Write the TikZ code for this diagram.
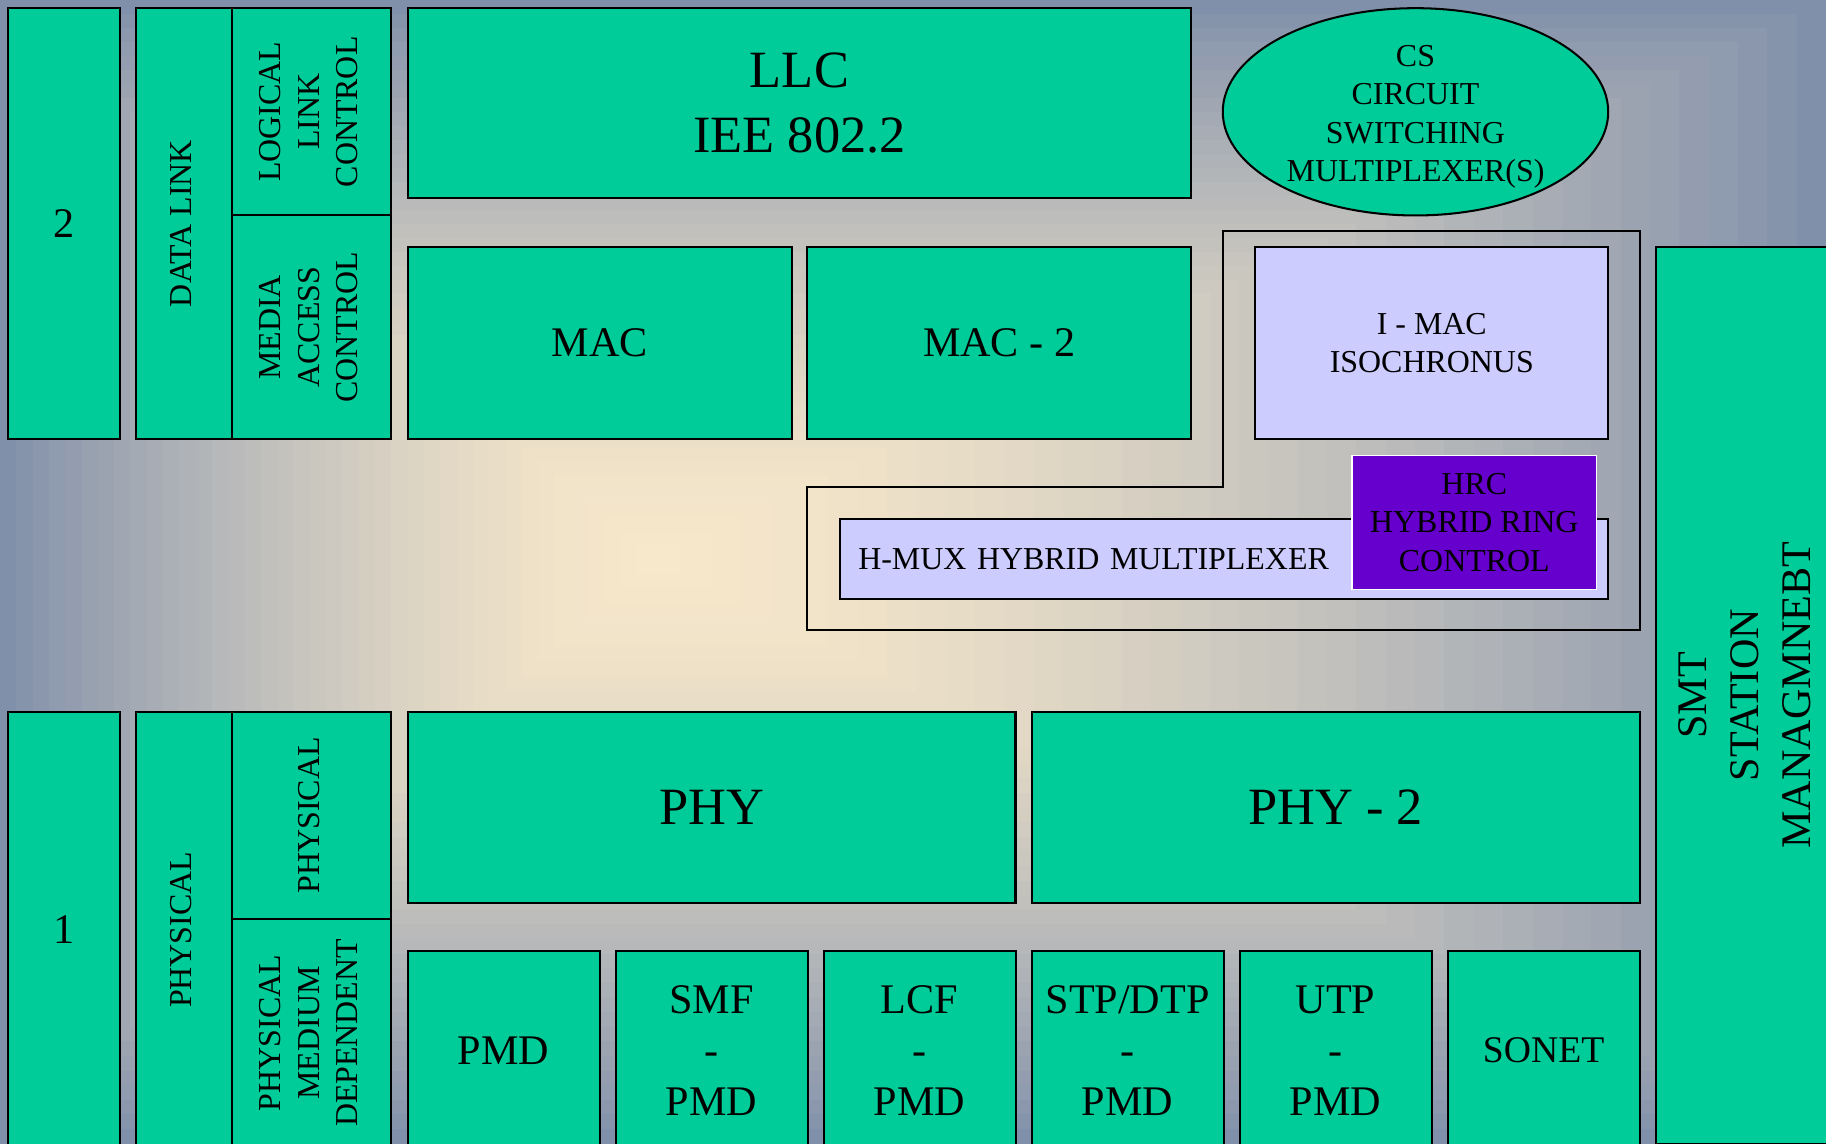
\documentclass[tikz,border=0pt]{standalone}
\usepackage{fontspec}
\setmainfont{Liberation Serif}
\usepackage{graphicx}
\usetikzlibrary{positioning,shapes.geometric}

\definecolor{layergreen}{HTML}{00CC99}
\definecolor{imaclav}{HTML}{CCCCFF}
\definecolor{hrcpurple}{HTML}{6600CC}
\definecolor{bgcream}{HTML}{F7E8CB}
\definecolor{bgslate}{HTML}{8190AA}

% vertical (rotated) label, lines stacked left to right
\newcommand{\vlabel}[1]{\rotatebox{90}{\begin{tabular}{@{}c@{}}#1\end{tabular}}}

\begin{document}
\begin{tikzpicture}[
  x=0.1mm,y=-0.1mm,
  box/.style={rectangle,draw,line width=0.5pt,fill=layergreen,anchor=north west,inner sep=0pt,outer sep=0pt,align=center},
  lilac/.style={box,fill=imaclav},
  small/.style={font=\fontsize{7.8}{9.4}\selectfont},
  mid/.style={font=\fontsize{10.3}{12.5}\selectfont},
  midsmall/.style={font=\fontsize{9.2}{11}\selectfont},
  big/.style={font=\fontsize{12.8}{16}\selectfont},
  tall/.style={font=\fontsize{10.3}{12.8}\selectfont}
]
\useasboundingbox (0,0) rectangle (1568,982);
\clip (0,0) rectangle (1568,982);

% background gradient
\foreach \k in {40,39,...,1} {
  \pgfmathsetmacro\t{\k/40}
  \pgfmathtruncatemacro\p{100*\t^1.5}
  \fill[bgslate!\p!bgcream] ({560-560*\t},{480-480*\t}) rectangle ({560+1008*\t},{480+502*\t});
}

% layer 2 - data link
\node[box,mid,minimum width=9.6mm,minimum height=37mm] (layertwo) at (7,7) {2};
\node[box,small,minimum width=8.2mm,minimum height=37mm] (datalink) at (117,7) {\vlabel{DATA LINK}};
\node[box,small,minimum width=13.7mm,minimum height=17.8mm] (llcside) at (199,7) {\vlabel{LOGICAL\\LINK\\CONTROL}};
\node[box,small,minimum width=13.7mm,minimum height=19.2mm] (macside) at (199,185) {\vlabel{MEDIA\\ACCESS\\CONTROL}};
\node[box,big,minimum width=67.3mm,minimum height=16.3mm] (llc) at (350,7) {LLC\\IEE 802.2};
\node[ellipse,draw,line width=0.5pt,fill=layergreen,small,minimum width=33.1mm,minimum height=17.8mm,inner sep=0pt] (cs) at (1215.5,96)
  {\smash{\raisebox{-1.1mm}{\begin{tabular}{@{}c@{}}CS\\CIRCUIT\\SWITCHING\\MULTIPLEXER(S)\end{tabular}}}};
\node[box,mid,minimum width=33mm,minimum height=16.5mm] (mac) at (350,212) {MAC};
\node[box,mid,minimum width=33mm,minimum height=16.5mm,right=1.3mm of mac] (mactwo) {MAC - 2};

% isochronous part
\draw[line width=0.5pt] (1050,198) -- (1408,198) -- (1408,541) -- (693,541) -- (693,418) -- (1050,418) -- cycle;
\node[lilac,small,minimum width=30.3mm,minimum height=16.5mm] (imac) at (1078,212) {I - MAC\\ISOCHRONUS};
\node[lilac,small,text width=62.8mm,inner xsep=1.6mm,minimum height=6.8mm,align=left] (hmux) at (721,446) {H-MUX HYBRID MULTIPLEXER};
\node[box,small,fill=hrcpurple,draw=white,line width=0.3pt,minimum width=21mm,minimum height=11.5mm] (hrc) at (1161,391) {HRC\\HYBRID RING\\CONTROL};

% station management
\node[box,tall,minimum width=15.8mm,minimum height=77mm] (smt) at (1422,212) {\vlabel{SMT\\STATION\\MANAGMNEBT}};

% layer 1 - physical
\node[box,mid,minimum width=9.6mm,minimum height=37.5mm] (layerone) at (7,611) {1};
\node[box,small,minimum width=8.2mm,minimum height=37.5mm] (physical) at (117,611) {\vlabel{PHYSICAL}};
\node[box,small,minimum width=13.7mm,minimum height=17.8mm] (physide) at (199,611) {\vlabel{PHYSICAL}};
\node[box,small,minimum width=13.7mm,minimum height=19.6mm] (pmdside) at (199,789) {\vlabel{PHYSICAL\\MEDIUM\\DEPENDENT}};
\node[box,big,minimum width=52.2mm,minimum height=16.4mm] (phy) at (350,611) {PHY};
\node[box,big,minimum width=52.2mm,minimum height=16.4mm,right=1.4mm of phy] (phytwo) {PHY - 2};

\foreach \name/\txt/\fs [count=\i from 0] in {pmd/PMD/mid, smf/{SMF\\-\\PMD}/mid, lcf/{LCF\\-\\PMD}/mid, stp/{STP/DTP\\-\\PMD}/mid, utp/{UTP\\-\\PMD}/mid, sonet/SONET/midsmall}
  \node[box,\fs,minimum width=16.5mm,minimum height=17mm] (\name) at ({350+178.6*\i},817) {\txt};
\end{tikzpicture}
\end{document}
